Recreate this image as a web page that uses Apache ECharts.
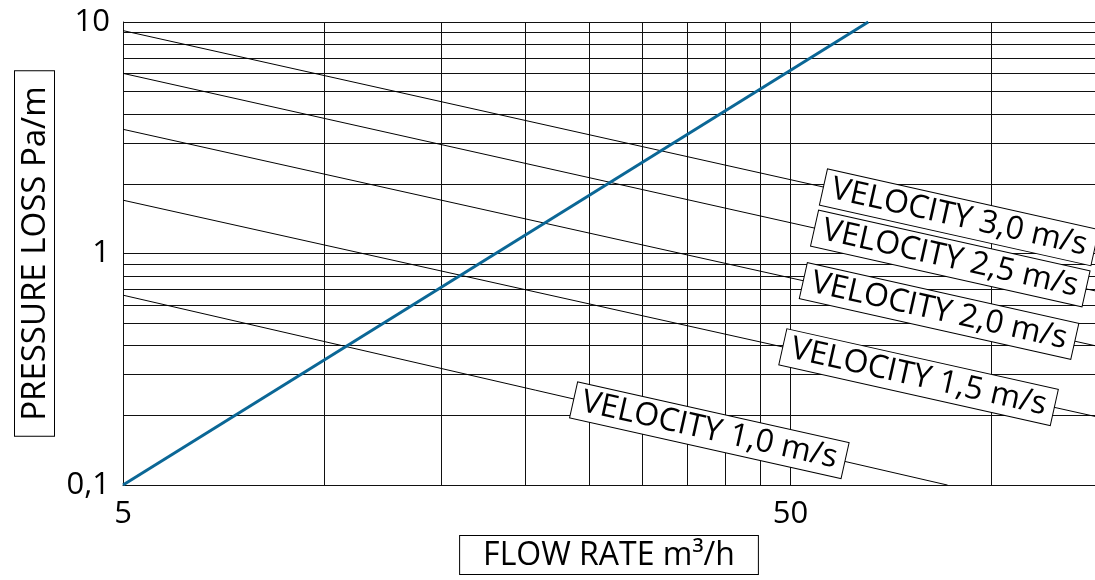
<!DOCTYPE html>
<html>
<head>
<meta charset="utf-8">
<script src="https://cdn.jsdelivr.net/npm/echarts@6/dist/echarts.min.js"></script>
<style>
html,body{margin:0;padding:0;background:#fff;}
#chart{width:1095px;height:580px;}
</style>
</head>
<body>
<div id="chart"></div>
<script>
// ---- data ----
const xGridValues = [10, 15, 20, 25, 30, 35, 40, 45, 50, 100];
const xLabelValues = [5, 50];
const yGridValues = [0.1, 0.2, 0.3, 0.4, 0.5, 0.6, 0.7, 0.8, 0.9, 1, 2, 3, 4, 5, 6, 7, 8, 9, 10];
const yLabelValues = [0.1, 1, 10];
const xMin = 5, xMax = 143, yMin = 0.1, yMax = 10;

// system curve (flow rate, pressure loss)
const systemCurve = [[5, 0.1], [65.4, 10]];

// constant velocity lines: [start, end] points
const velocityNames = ['VELOCITY 3,0 m/s', 'VELOCITY 2,5 m/s', 'VELOCITY 2,0 m/s', 'VELOCITY 1,5 m/s', 'VELOCITY 1,0 m/s'];
const velocityLines = [
  [[5, 9.18], [143, 1.06]],
  [[5, 6.0], [143, 0.69]],
  [[5, 3.44], [143, 0.40]],
  [[5, 1.70], [143, 0.198]],
  [[5, 0.661], [86, 0.1]]
];
// flow rate at which each velocity label sits on its line
const velocityLabelX = [89.5, 86.8, 83.5, 77.8, 37.8];

function interpLog(line, x) {
  const [p0, p1] = line;
  const t = (Math.log10(x) - Math.log10(p0[0])) / (Math.log10(p1[0]) - Math.log10(p0[0]));
  return Math.pow(10, Math.log10(p0[1]) + t * (Math.log10(p1[1]) - Math.log10(p0[1])));
}

const FONT = '"Open Sans", "Noto Sans", sans-serif';
const gridColor = '#111';

const series = [];
velocityLines.forEach((line, i) => {
  const lx = velocityLabelX[i];
  series.push({
    type: 'line',
    data: line,
    symbol: 'none',
    silent: true,
    z: 3,
    lineStyle: { color: '#000', width: 1 },
    markPoint: {
      symbol: 'rect',
      symbolSize: 0,
      silent: true,
      z: 5,
      data: [{ coord: [lx, interpLog(line, lx)] }],
      label: {
        show: true,
        position: 'inside',
        formatter: velocityNames[i],
        rotate: -12.6,
        fontFamily: FONT,
        fontSize: 32,
        color: '#000',
        backgroundColor: '#fff',
        borderColor: '#000',
        borderWidth: 1,
        padding: [2, 8, 1, 8],
        lineHeight: 33
      }
    }
  });
});
series.push({
  type: 'line',
  data: systemCurve,
  symbol: 'none',
  silent: true,
  z: 4,
  lineStyle: { color: '#0b6796', width: 3 }
});

const chart = echarts.init(document.getElementById('chart'), null, { renderer: 'canvas' });
chart.setOption({
  animation: false,
  backgroundColor: '#fff',
  grid: { left: 123, right: 0, top: 22, bottom: 90, containLabel: false },
  xAxis: {
    type: 'log',
    logBase: 10,
    min: xMin,
    max: xMax,
    axisLine: { show: true, lineStyle: { color: gridColor, width: 1 } },
    axisTick: { show: false, customValues: xGridValues },
    axisLabel: {
      customValues: xLabelValues,
      fontFamily: FONT, fontSize: 31, color: '#000', margin: 14,
      formatter: v => String(v).replace('.', ',')
    },
    splitLine: { show: true, lineStyle: { color: gridColor, width: 1 } },
    name: 'FLOW RATE m³/h',
    nameLocation: 'middle',
    nameGap: 48,
    nameTextStyle: {
      fontFamily: FONT, fontSize: 32, color: '#000',
      borderColor: '#000', borderWidth: 1, backgroundColor: '#fff',
      padding: [4, 23, 2, 23]
    }
  },
  yAxis: {
    type: 'log',
    logBase: 10,
    min: yMin,
    max: yMax,
    axisLine: { show: true, lineStyle: { color: gridColor, width: 1 } },
    axisTick: { show: false, customValues: yGridValues },
    axisLabel: {
      customValues: yLabelValues,
      fontFamily: FONT, fontSize: 31, color: '#000', margin: 13,
      formatter: v => String(v).replace('.', ',')
    },
    splitLine: { show: true, lineStyle: { color: gridColor, width: 1 } },
    name: 'PRESSURE LOSS Pa/m',
    nameLocation: 'middle',
    nameRotate: 90,
    nameGap: 69,
    nameTextStyle: {
      fontFamily: FONT, fontSize: 33, color: '#000',
      borderColor: '#000', borderWidth: 1, backgroundColor: '#fff',
      padding: [4, 15, 2, 15]
    }
  },
  series: series
});
</script>
</body>
</html>
